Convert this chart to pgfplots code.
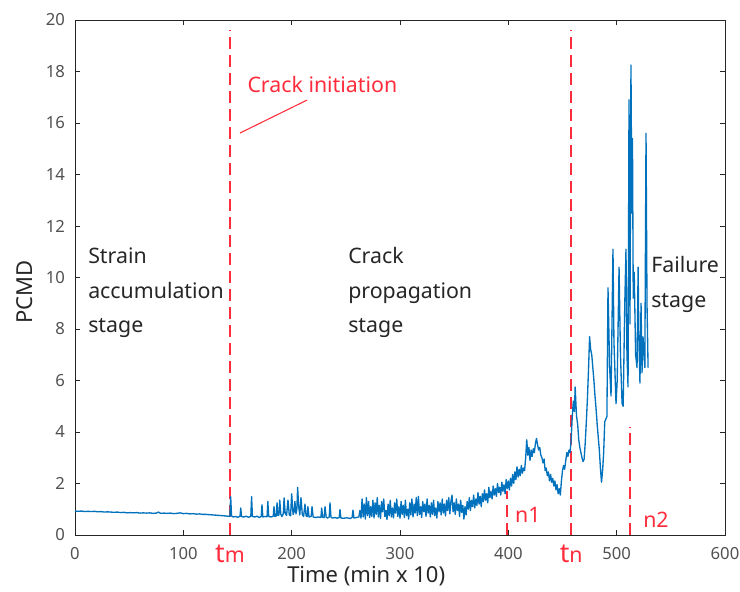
\documentclass[border=0pt]{standalone}
\usepackage{pgfplots}
\pgfplotsset{compat=1.18}
\usepackage{fontspec}
\setmainfont{Noto Sans}
\usetikzlibrary{calc}
\definecolor{mblue}{rgb}{0,0.447,0.741}
\definecolor{mred}{RGB}{255,45,60}
\definecolor{axgray}{RGB}{38,38,38}
\begin{document}
\begin{tikzpicture}
\begin{axis}[
 scale only axis, width=487.5pt, height=386.25pt,
 xmin=0, xmax=600, ymin=0, ymax=20,
 xtick={0,100,...,600}, ytick={0,2,...,20},
 tick align=inside, major tick length=4pt,
 axis line style={axgray, line width=0.6pt},
 every tick/.style={axgray, line width=0.6pt},
 tick label style={font=\fontsize{12.5}{14}\selectfont, text=axgray!80},
 /pgf/number format/assume math mode=true,
 xticklabel style={yshift=-6pt},
 yticklabel style={xshift=-4pt},
 clip=false,
]
\coordinate (SW) at (rel axis cs:0,0);
\coordinate (NE) at (rel axis cs:1,1);
% stage lines
\addplot[mred, line width=1.4pt, dash pattern=on 9pt off 4.5pt] coordinates {(143,0) (143,19.6)};
\addplot[mred, line width=1.4pt, dash pattern=on 9pt off 4.5pt] coordinates {(457.8,0) (457.8,19.6)};
\addplot[mred, line width=1.4pt, dash pattern=on 9pt off 4.5pt] coordinates {(398.8,0) (398.8,1.7)};
\addplot[mred, line width=1.4pt, dash pattern=on 9pt off 4.5pt] coordinates {(512.3,0) (512.3,4.2)};
% signal
\addplot[mblue, line width=1pt, line join=round] coordinates {
(0,0.93) (3,0.92) (6,0.93) (9,0.91) (12,0.92) (15,0.91) (18,0.92) (21,0.90) (24,0.91) (27,0.89) (30,0.90) (33,0.89) (36,0.88) (39,0.89) (42,0.87) (45,0.88) (48,0.86) (51,0.87) (54,0.86) (57,0.87) (60,0.85) (63,0.86) (66,0.85) (69,0.86) (72,0.84) (75,0.85) (77,0.89) (79,0.84) (82,0.85) (85,0.84) (88,0.85) (91,0.83) (94,0.84) (97,0.86) (100,0.83) (103,0.84) (106,0.82) (109,0.83) (112,0.81) (115,0.82) (118,0.80) (121,0.80) (124,0.79) (127,0.78) (130,0.77) (133,0.76) (136,0.75) (139,0.74) (141,0.73)
(143,0.72) (143.7,1.49) (144.5,0.74) (146,0.70) (148,0.72) (150,0.69) (152.3,0.72) (153,1.05) (153.8,0.71) (156,0.70) (158,0.73) (160,0.69) (162.3,0.72) (163,1.49) (163.8,0.72) (166,0.70) (168,0.73) (170,0.68) (171.9,0.72) (172.6,1.17) (173.4,0.70) (175,0.72) (177.3,0.71) (178,1.30) (178.8,0.72) (181,0.70) (183,0.73) (183.7,1.10) (184.5,0.72) (185.8,0.74) (186.5,1.25) (187.3,0.76) (188.3,0.78) (189,1.36) (190,0.80) (191,0.72) (192.3,0.82) (193,1.44) (194,0.85) (195.3,0.76) (196.6,1.36) (197.8,0.78) (199,0.75) (200,1.60) (201.3,0.80) (202.3,0.90) (203,1.30) (204,0.82) (204.8,1.00) (205.5,1.85) (206.5,1.10) (207.5,0.78) (208.6,1.45) (209.8,0.80) (211,0.72) (212.3,1.20) (213.3,0.74) (214.3,0.72) (215,1.10) (216,0.70) (218,0.72) (218.8,1.10) (219.8,0.70) (222,0.68) (225,0.70) (227,0.68) (227.7,1.05) (228.6,0.69) (230,0.68) (230.8,1.10) (231.8,0.70) (233,0.66) (234.7,0.70) (235.4,1.25) (236.3,0.68) (238,0.66) (240,0.68) (242,0.65) (243.9,0.68) (244.6,0.99) (245.4,0.66) (248,0.65) (251,0.67) (254,0.64) (255.8,0.68) (256.6,0.97) (257.5,0.66) (260,0.68)
(262,0.70) (263,0.95) (264,0.65) (265,1.40) (266,0.70) (267,1.20) (268,0.62) (269,1.45) (270,0.75) (271,1.30) (272,0.68) (273,1.10) (274,0.72) (275,1.35) (276,0.66) (277,1.25) (278,0.80) (279,1.45) (280,0.70) (281,1.15) (282,0.64) (283,1.30) (284,0.90) (285,1.40) (286,0.72) (287,0.95) (288,0.60) (289,1.20) (290,0.75) (291,1.35) (292,0.70) (293,1.05) (294,0.66) (295,1.25) (296,0.85) (297,1.40) (298,0.72) (299,1.10) (300,0.65) (301,1.30) (302,0.80) (303,1.15) (304,0.68) (305,1.35) (306,0.75) (307,1.00) (308,0.62) (309,1.25) (310,0.78) (311,1.40) (312,0.70) (313,1.20) (314,0.85) (315,1.45) (316,0.75) (317,1.50) (318,0.80) (319,1.10) (320,0.68) (321,1.30) (322,0.90) (323,1.20) (324,0.72) (325,1.40) (326,0.85) (327,1.15) (328,0.70) (329,1.25) (330,0.80) (331,1.35) (332,0.75) (333,1.05) (334,0.66) (335,1.30) (336,0.90) (337,1.25) (338,0.78) (339,1.40) (340,0.85) (341,1.20) (342,0.74) (343,1.35) (344,0.95) (345,1.45) (346,0.82) (347,1.30) (348,1.55) (349,0.90) (350,1.25) (351,0.80) (352,1.40) (353,0.95) (354,1.20) (355,0.72) (356,1.35) (357,0.88) (358,1.15) (359,0.62) (360,1.10) (361,0.78) (362,1.30) (363,1.00) (364,1.45) (365,0.95) (366,1.35) (367,1.10) (368,1.55) (369,1.05) (370,1.40) (371,1.15) (372,1.65) (373,1.20) (374,1.50) (375,1.10) (376,1.60) (377,1.30) (378,1.75) (379,1.35) (380,1.60) (381,1.25) (382,1.85) (383,1.45) (384,1.70) (385,1.40) (386,1.90) (387,1.55) (388,1.80) (389,1.50) (390,2.00) (391,1.65) (392,1.85) (393,1.55) (394,2.05) (395,1.70) (396,1.95) (397,1.60) (398,2.15) (399,1.80) (400,2.10)
(401,1.75) (402,2.20) (403,1.90) (404,2.35) (405,2.00) (406,2.45) (407,2.15) (408,2.65) (409,2.25) (410,2.55) (411,2.30) (412,2.70) (413,2.40) (414,2.60) (415,2.50) (416,3.00) (417,3.70) (418,3.10) (419,3.40) (420,2.90) (421,3.30) (422,3.05) (423,3.35) (424,3.20) (425,3.55) (426,3.75) (427,3.50) (428,3.30) (429,3.40) (430,3.10) (431,3.00) (432,2.80) (433,2.95) (434,2.50) (435,2.60) (436,2.30) (437,2.45) (438,2.10) (439,2.35) (440,2.05) (441,2.20) (442,1.90) (443,2.10) (444,1.75) (445,1.95) (446,1.60) (447,1.80) (448,1.55) (449,2.10) (450,2.50) (451,2.70) (452,2.55) (453,2.90) (454,3.20) (455,3.05) (456,3.30) (457,3.20) (458,3.70) (459,4.60) (460,5.20) (461,4.80) (461.7,5.75) (462.5,5.00) (463,4.60) (464,4.30) (465,3.70) (466,3.40) (467,3.20) (468,3.00) (469,2.85) (470,2.95) (471,3.60) (472,4.40) (473,5.30) (474,6.40) (475,7.70) (476,7.20) (477,7.00) (478,6.50) (479,6.00) (480,5.40) (481,4.90) (482,4.30) (483,3.80) (484,3.30) (485,2.60) (486,2.05) (487,2.50) (488,3.20) (489,4.40) (490,4.50) (491,4.60) (492,9.60) (493.5,6.50) (494.8,5.40) (496.6,11.10) (497.5,7.50) (499.4,5.10) (500.5,6.00) (502.2,10.40) (503.5,7.00) (505,5.10) (506,5.00) (507.5,9.00) (508.6,11.10) (509.5,7.00) (510.5,5.75) (511.4,16.90) (512.3,8.20) (513.2,18.25) (514,12.50) (514.6,15.40) (515.3,9.20) (516.2,10.20) (517.5,7.00) (518.8,6.50) (519.8,10.40) (520.5,7.60) (521.5,5.90) (522.5,9.00) (523.4,6.30) (524.3,7.70) (525.2,7.10) (526,6.50) (527.1,15.60) (528,9.00) (529,6.50)
};
% annotations
\begin{scope}[every node/.style={font=\fontsize{16}{18}\selectfont, text=axgray, inner sep=0pt}]
\node[anchor=base west] at (axis cs:12,10.56) {Strain};
\node[anchor=base west] at (axis cs:12,9.20) {accumulation};
\node[anchor=base west] at (axis cs:12,7.88) {stage};
\node[anchor=base west] at (axis cs:252,10.56) {Crack};
\node[anchor=base west] at (axis cs:252,9.20) {propagation};
\node[anchor=base west] at (axis cs:252,7.88) {stage};
\node[anchor=base west] at (axis cs:531.7,10.21) {Failure};
\node[anchor=base west] at (axis cs:531.7,8.85) {stage};
\node[anchor=base west, text=mred] at (axis cs:159,17.2) {Crack initiation};
\node[anchor=base west, text=mred] at (axis cs:406,0.48) {n1};
\node[anchor=base west, text=mred] at (axis cs:524.3,0.31) {n2};
\node[anchor=base, text=mred] at (axis cs:143,-1.05) {{\fontsize{20}{20}\selectfont t}m};
\node[anchor=base, text=mred] at (axis cs:458,-1.08) {{\fontsize{20}{20}\selectfont t}n};
\node[anchor=base, font=\fontsize{16.5}{18}\selectfont] at (axis description cs:0.448,-0.0913) {Time (min x 10)};
\node[anchor=center, rotate=90, font=\fontsize{16.5}{18}\selectfont] at (axis description cs:-0.0769,0.472) {PCMD};
\end{scope}
\draw[mred, line width=0.8pt] (axis cs:152.3,15.61) -- (axis cs:214.2,16.89);
\end{axis}
\pgfresetboundingbox
\path[use as bounding box] ($(SW)+(-56.25pt,-42.75pt)$) rectangle ($(NE)+(11.25pt,15pt)$);
\end{tikzpicture}
\end{document}
